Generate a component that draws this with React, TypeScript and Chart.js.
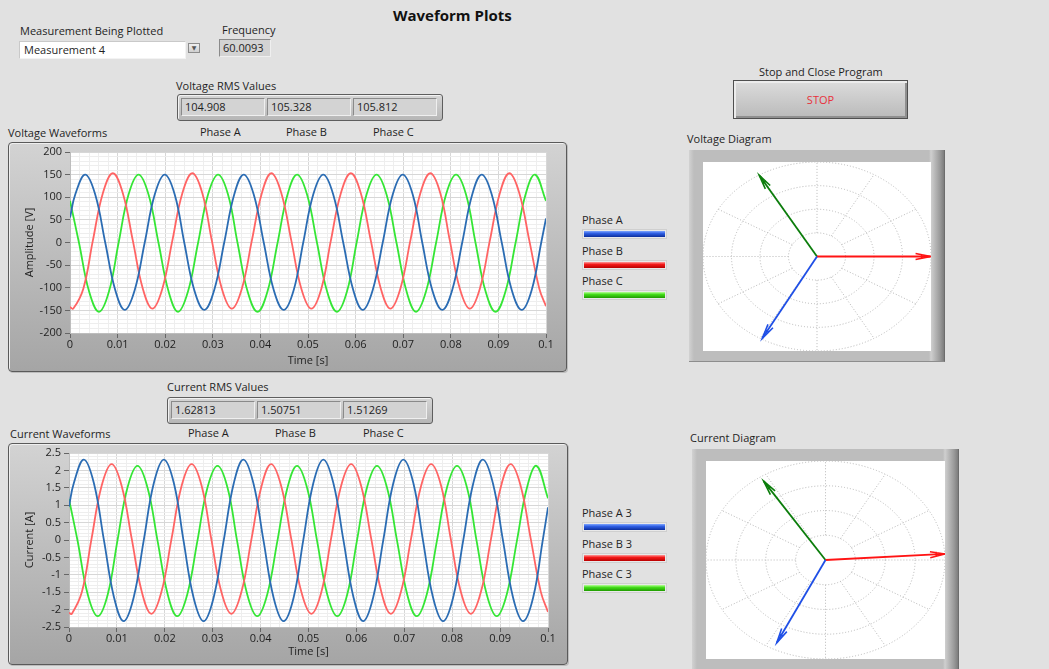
import React, { useEffect, useRef } from 'react';
import { Chart, registerables } from 'chart.js';

Chart.register(...registerables);

const FONT = '"Open Sans", "Noto Sans", "DejaVu Sans", sans-serif';
const TEXT = '#1f1f1f';
Chart.defaults.font.family = FONT;

// ---------- Panel values ----------
const titleText = 'Waveform Plots';
const measurementLabel = 'Measurement Being Plotted';
const measurementValue = 'Measurement 4';
const frequencyLabel = 'Frequency';
const frequencyValue = '60.0093';
const phaseNames = ['Phase A', 'Phase B', 'Phase C'];
const voltageRms = ['104.908', '105.328', '105.812'];
const currentRms = ['1.62813', '1.50751', '1.51269'];
const voltageLegend = ['Phase A', 'Phase B', 'Phase C'];
const currentLegend = ['Phase A 3', 'Phase B 3', 'Phase C 3'];

// ---------- Waveform axes ----------
const timeMajorTicks = [0, 0.01, 0.02, 0.03, 0.04, 0.05, 0.06, 0.07, 0.08, 0.09, 0.1];
const voltageMajorTicks = [-200, -150, -100, -50, 0, 50, 100, 150, 200];
const currentMajorTicks = [-2.5, -2, -1.5, -1, -0.5, 0, 0.5, 1, 1.5, 2, 2.5];

// ---------- Voltage waveforms (time [s], amplitude [V]) ----------
const voltageTimeA = [0, 0.0011, 0.0032, 0.0053, 0.0074, 0.0095, 0.0115, 0.0136, 0.0157, 0.0178, 0.0199, 0.0220, 0.0240, 0.0261, 0.0282, 0.0303, 0.0324, 0.0345, 0.0365, 0.0386, 0.0407, 0.0428, 0.0449, 0.0470, 0.0490, 0.0511, 0.0532, 0.0553, 0.0574, 0.0595, 0.0615, 0.0636, 0.0657, 0.0678, 0.0699, 0.0720, 0.0740, 0.0761, 0.0782, 0.0803, 0.0824, 0.0845, 0.0865, 0.0886, 0.0907, 0.0928, 0.0949, 0.0970, 0.0990, 0.1];
const voltageA = [55,
  106, 150, 106, 0, -105, -149, -105, 0,
  106, 150, 106, 0, -105, -149, -105, 0,
  106, 150, 106, 0, -105, -149, -105, 0,
  106, 150, 106, 0, -105, -149, -105, 0,
  106, 150, 106, 0, -105, -149, -105, 0,
  106, 150, 106, 0, -105, -149, -105, 0,
  53];
const voltageTimeB = [0, 0.0007, 0.0028, 0.0048, 0.0069, 0.0090, 0.0111, 0.0132, 0.0153, 0.0173, 0.0194, 0.0215, 0.0236, 0.0257, 0.0278, 0.0298, 0.0319, 0.0340, 0.0361, 0.0382, 0.0403, 0.0423, 0.0444, 0.0465, 0.0486, 0.0507, 0.0528, 0.0548, 0.0569, 0.0590, 0.0611, 0.0632, 0.0653, 0.0673, 0.0694, 0.0715, 0.0736, 0.0757, 0.0778, 0.0798, 0.0819, 0.0840, 0.0861, 0.0882, 0.0903, 0.0923, 0.0944, 0.0965, 0.0986, 0.1];
const voltageB = [-143,
  -146, -102, 4, 109, 153, 109, 4, -102,
  -146, -102, 4, 109, 153, 109, 4, -102,
  -146, -102, 4, 109, 153, 109, 4, -102,
  -146, -102, 4, 109, 153, 109, 4, -102,
  -146, -102, 4, 109, 153, 109, 4, -102,
  -146, -102, 4, 109, 153, 109, 4, -102,
  -141];
const voltageTimeC = [0, 0.0019, 0.0040, 0.0061, 0.0082, 0.0102, 0.0123, 0.0144, 0.0165, 0.0186, 0.0207, 0.0227, 0.0248, 0.0269, 0.0290, 0.0311, 0.0332, 0.0352, 0.0373, 0.0394, 0.0415, 0.0436, 0.0457, 0.0477, 0.0498, 0.0519, 0.0540, 0.0561, 0.0582, 0.0602, 0.0623, 0.0644, 0.0665, 0.0686, 0.0707, 0.0727, 0.0748, 0.0769, 0.0790, 0.0811, 0.0832, 0.0852, 0.0873, 0.0894, 0.0915, 0.0936, 0.0957, 0.0977, 0.1];
const voltageC = [92,
  -1, -108, -153, -108, -1, 106, 150, 106,
  -1, -108, -153, -108, -1, 106, 150, 106,
  -1, -108, -153, -108, -1, 106, 150, 106,
  -1, -108, -153, -108, -1, 106, 150, 106,
  -1, -108, -153, -108, -1, 106, 150, 106,
  -1, -108, -153, -108, -1, 106, 150,
  92];

// ---------- Current waveforms (time [s], current [A]) ----------
const currentTimeA = [0, 0.0010, 0.0031, 0.0052, 0.0073, 0.0094, 0.0114, 0.0135, 0.0156, 0.0177, 0.0198, 0.0219, 0.0239, 0.0260, 0.0281, 0.0302, 0.0323, 0.0344, 0.0364, 0.0385, 0.0406, 0.0427, 0.0448, 0.0469, 0.0489, 0.0510, 0.0531, 0.0552, 0.0573, 0.0594, 0.0614, 0.0635, 0.0656, 0.0677, 0.0698, 0.0719, 0.0739, 0.0760, 0.0781, 0.0802, 0.0823, 0.0844, 0.0864, 0.0885, 0.0906, 0.0927, 0.0948, 0.0969, 0.0989, 0.1];
const currentA = [0.96,
  1.63, 2.31, 1.63, -0.01, -1.65, -2.33, -1.65, -0.01,
  1.63, 2.31, 1.63, -0.01, -1.65, -2.33, -1.65, -0.01,
  1.63, 2.31, 1.63, -0.01, -1.65, -2.33, -1.65, -0.01,
  1.63, 2.31, 1.63, -0.01, -1.65, -2.33, -1.65, -0.01,
  1.63, 2.31, 1.63, -0.01, -1.65, -2.33, -1.65, -0.01,
  1.63, 2.31, 1.63, -0.01, -1.65, -2.33, -1.65, -0.01,
  0.94];
const currentTimeB = [0, 0.0006, 0.0027, 0.0047, 0.0068, 0.0089, 0.0110, 0.0131, 0.0152, 0.0172, 0.0193, 0.0214, 0.0235, 0.0256, 0.0277, 0.0297, 0.0318, 0.0339, 0.0360, 0.0381, 0.0402, 0.0422, 0.0443, 0.0464, 0.0485, 0.0506, 0.0527, 0.0547, 0.0568, 0.0589, 0.0610, 0.0631, 0.0652, 0.0672, 0.0693, 0.0714, 0.0735, 0.0756, 0.0777, 0.0797, 0.0818, 0.0839, 0.0860, 0.0881, 0.0902, 0.0922, 0.0943, 0.0964, 0.0985, 0.1];
const currentB = [-2.09,
  -2.12, -1.49, 0.03, 1.55, 2.18, 1.55, 0.03, -1.49,
  -2.12, -1.49, 0.03, 1.55, 2.18, 1.55, 0.03, -1.49,
  -2.12, -1.49, 0.03, 1.55, 2.18, 1.55, 0.03, -1.49,
  -2.12, -1.49, 0.03, 1.55, 2.18, 1.55, 0.03, -1.49,
  -2.12, -1.49, 0.03, 1.55, 2.18, 1.55, 0.03, -1.49,
  -2.12, -1.49, 0.03, 1.55, 2.18, 1.55, 0.03, -1.49,
  -2.07];
const currentTimeC = [0, 0.0018, 0.0039, 0.0060, 0.0081, 0.0101, 0.0122, 0.0143, 0.0164, 0.0185, 0.0206, 0.0226, 0.0247, 0.0268, 0.0289, 0.0310, 0.0331, 0.0351, 0.0372, 0.0393, 0.0414, 0.0435, 0.0456, 0.0476, 0.0497, 0.0518, 0.0539, 0.0560, 0.0581, 0.0601, 0.0622, 0.0643, 0.0664, 0.0685, 0.0706, 0.0726, 0.0747, 0.0768, 0.0789, 0.0810, 0.0831, 0.0851, 0.0872, 0.0893, 0.0914, 0.0935, 0.0956, 0.0976, 0.1];
const currentC = [1.17,
  -0.03, -1.56, -2.19, -1.56, -0.03, 1.50, 2.13, 1.50,
  -0.03, -1.56, -2.19, -1.56, -0.03, 1.50, 2.13, 1.50,
  -0.03, -1.56, -2.19, -1.56, -0.03, 1.50, 2.13, 1.50,
  -0.03, -1.56, -2.19, -1.56, -0.03, 1.50, 2.13, 1.50,
  -0.03, -1.56, -2.19, -1.56, -0.03, 1.50, 2.13, 1.50,
  -0.03, -1.56, -2.19, -1.56, -0.03, 1.50, 2.13,
  1.20];

const waveColors = ['#2b6cb3', '#ff6464', '#35e635'];

// ---------- Phasor diagrams (order A, B, C) ----------
const voltagePhasorMag = [104.908, 105.328, 105.812];
const voltagePhasorAngle = [241, 0, 120.5];
const voltagePhasorRange = 106;
const currentPhasorMag = [0.93, 1.0, 0.95];
const currentPhasorAngle = [244, 3.5, 123];
const currentPhasorRange = 1.0;
const phasorColors = ['#1f4fe6', '#ff1414', '#0b7d0b'];
const phasorRings = [0.25, 0.5, 0.75, 1];
const phasorSpokes = [0, 30, 60, 90, 120, 150, 180, 210, 240, 270, 300, 330];

const legendGradients = [
  'linear-gradient(to bottom, #7ea5ff 0%, #2f5fe4 40%, #0c2e9c 100%)',
  'linear-gradient(to bottom, #ff9a9a 0%, #f41a1a 40%, #b80000 100%)',
  'linear-gradient(to bottom, #b8ff99 0%, #44dd1a 40%, #1f9a00 100%)',
];

// ---------- Plugins ----------
const plotBgPlugin = {
  id: 'plotBg',
  beforeDraw(chart: any, _args: any, opts: any) {
    if (!opts || !opts.color) return;
    const { ctx, chartArea } = chart;
    ctx.save();
    ctx.fillStyle = opts.color;
    ctx.fillRect(chartArea.left, chartArea.top, chartArea.width, chartArea.height);
    ctx.restore();
  },
};

const phasorGridPlugin = {
  id: 'phasorGrid',
  beforeDatasetsDraw(chart: any, _args: any, opts: any) {
    const { ctx, scales } = chart;
    const R = opts.range;
    const cx = scales.x.getPixelForValue(0);
    const cy = scales.y.getPixelForValue(0);
    const rx = scales.x.getPixelForValue(R) - cx;
    const ry = cy - scales.y.getPixelForValue(R);
    ctx.save();
    ctx.strokeStyle = '#b8b8b8';
    ctx.lineWidth = 1;
    ctx.setLineDash([1, 2]);
    for (const f of opts.rings) {
      ctx.beginPath();
      ctx.ellipse(cx, cy, rx * f, ry * f, 0, 0, Math.PI * 2);
      ctx.stroke();
    }
    const inner = opts.rings[0];
    for (const a of opts.spokes) {
      const c = Math.cos((a * Math.PI) / 180);
      const s = Math.sin((a * Math.PI) / 180);
      ctx.beginPath();
      ctx.moveTo(cx + rx * inner * c, cy - ry * inner * s);
      ctx.lineTo(cx + rx * c, cy - ry * s);
      ctx.stroke();
    }
    ctx.restore();
  },
  afterDatasetsDraw(chart: any) {
    const { ctx } = chart;
    ctx.save();
    chart.data.datasets.forEach((ds: any, i: number) => {
      const meta = chart.getDatasetMeta(i);
      const p0 = meta.data[0];
      const p1 = meta.data[1];
      if (!p0 || !p1) return;
      const ang = Math.atan2(p1.y - p0.y, p1.x - p0.x);
      const L = 15;
      const spread = 0.2;
      ctx.strokeStyle = ds.borderColor;
      ctx.lineWidth = 1.6;
      ctx.beginPath();
      ctx.moveTo(p1.x - L * Math.cos(ang - spread), p1.y - L * Math.sin(ang - spread));
      ctx.lineTo(p1.x, p1.y);
      ctx.lineTo(p1.x - L * Math.cos(ang + spread), p1.y - L * Math.sin(ang + spread));
      ctx.moveTo(p1.x - 9 * Math.cos(ang - 0.28), p1.y - 9 * Math.sin(ang - 0.28));
      ctx.lineTo(p1.x - 9 * Math.cos(ang + 0.28), p1.y - 9 * Math.sin(ang + 0.28));
      ctx.stroke();
    });
    ctx.restore();
  },
};

const isMajor = (v: number, majors: number[]) => majors.some((m) => Math.abs(m - v) < 1e-7);
const majorLabel = (v: number, majors: number[]) => {
  const m = majors.find((mm) => Math.abs(mm - v) < 1e-7);
  return m === undefined ? '' : String(m);
};

function waveConfig(
  series: { t: number[]; v: number[]; color: string }[],
  y: { min: number; max: number; step: number; majors: number[]; title: string },
  geom: { yWidth: number; xHeight: number; padRight: number; titleBottom: number }
) {
  const tickFont = { family: FONT, size: 11 };
  return {
    type: 'line',
    data: {
      datasets: series.map((s) => ({
        data: s.t.map((t, i) => ({ x: t, y: s.v[i] })),
        borderColor: s.color,
        borderWidth: 1.8,
        pointRadius: 0,
        tension: 0.4,
        fill: false,
      })),
    },
    options: {
      responsive: false,
      animation: false,
      layout: { padding: { top: 10, right: geom.padRight, left: 0, bottom: 0 } },
      plugins: { legend: { display: false }, tooltip: { enabled: false }, plotBg: { color: '#ffffff' } },
      scales: {
        x: {
          type: 'linear',
          min: 0,
          max: 0.1,
          ticks: {
            stepSize: 0.002,
            autoSkip: false,
            maxRotation: 0,
            padding: 0,
            color: TEXT,
            font: tickFont,
            callback: (v: number) => majorLabel(v, timeMajorTicks),
          },
          grid: {
            color: (c: any) => (c.tick && isMajor(c.tick.value, timeMajorTicks) ? '#d7d7d7' : '#eeeeee'),
            tickColor: (c: any) => (c.tick && isMajor(c.tick.value, timeMajorTicks) ? '#666666' : 'rgba(0,0,0,0)'),
            tickLength: 5,
          },
          border: { color: '#bdbdbd' },
          title: { display: true, text: 'Time [s]', color: TEXT, font: tickFont, padding: { top: 0, bottom: geom.titleBottom } },
          afterFit: (s: any) => {
            s.height = geom.xHeight;
          },
        },
        y: {
          type: 'linear',
          min: y.min,
          max: y.max,
          ticks: {
            stepSize: y.step,
            autoSkip: false,
            padding: 3,
            color: TEXT,
            font: tickFont,
            callback: (v: number) => majorLabel(v, y.majors),
          },
          grid: {
            color: (c: any) => (c.tick && isMajor(c.tick.value, y.majors) ? '#d7d7d7' : '#eeeeee'),
            tickColor: (c: any) => (c.tick && isMajor(c.tick.value, y.majors) ? '#666666' : 'rgba(0,0,0,0)'),
            tickLength: 5,
          },
          border: { color: '#bdbdbd' },
          title: { display: true, text: y.title, color: TEXT, font: tickFont, padding: { top: 15, bottom: 0 } },
          afterFit: (s: any) => {
            s.width = geom.yWidth;
          },
        },
      },
    },
    plugins: [plotBgPlugin],
  };
}

function phasorConfig(mags: number[], angles: number[], range: number) {
  return {
    type: 'scatter',
    data: {
      datasets: mags.map((m, i) => ({
        data: [
          { x: 0, y: 0 },
          { x: m * Math.cos((angles[i] * Math.PI) / 180), y: m * Math.sin((angles[i] * Math.PI) / 180) },
        ],
        showLine: true,
        borderColor: phasorColors[i],
        borderWidth: 1.8,
        pointRadius: 0,
      })),
    },
    options: {
      responsive: false,
      animation: false,
      layout: { padding: 0 },
      plugins: {
        legend: { display: false },
        tooltip: { enabled: false },
        plotBg: { color: '#ffffff' },
        phasorGrid: { range, rings: phasorRings, spokes: phasorSpokes },
      },
      scales: {
        x: { type: 'linear', min: -range, max: range, display: false },
        y: { type: 'linear', min: -range, max: range, display: false },
      },
    },
    plugins: [plotBgPlugin, phasorGridPlugin],
  };
}

function ChartCanvas({ x, y, w, h, make }: { x: number; y: number; w: number; h: number; make: () => any }) {
  const ref = useRef<HTMLCanvasElement>(null);
  useEffect(() => {
    const chart = new Chart(ref.current as HTMLCanvasElement, make());
    return () => chart.destroy();
  }, []);
  return <canvas ref={ref} width={w} height={h} style={{ position: 'absolute', left: x, top: y, width: w, height: h }} />;
}

function Txt({ x, y, children, size = 11, weight = 400, color = TEXT }: any) {
  return (
    <div
      style={{
        position: 'absolute',
        left: x,
        top: y - 8,
        height: 16,
        lineHeight: '16px',
        fontSize: size,
        fontWeight: weight,
        color,
        whiteSpace: 'nowrap',
        fontFamily: FONT,
      }}
    >
      {children}
    </div>
  );
}

function InsetBox({ x, y, w, h, bg, text }: any) {
  return (
    <div
      style={{
        position: 'absolute',
        left: x,
        top: y,
        width: w,
        height: h,
        boxSizing: 'border-box',
        background: bg,
        borderTop: '1px solid #8a8a8a',
        borderLeft: '1px solid #8a8a8a',
        borderRight: '1px solid #efefef',
        borderBottom: '1px solid #efefef',
        fontFamily: FONT,
        fontSize: 11,
        color: TEXT,
        lineHeight: `${h - 2}px`,
        paddingLeft: 3,
        whiteSpace: 'nowrap',
      }}
    >
      {text}
    </div>
  );
}

function RmsCluster({ x, y, values }: { x: number; y: number; values: string[] }) {
  return (
    <>
      <div
        style={{
          position: 'absolute',
          left: x,
          top: y,
          width: 266,
          height: 27,
          boxSizing: 'border-box',
          border: '1px solid #5e5e5e',
          borderRadius: 3,
          background: 'linear-gradient(#d6d6d6, #b6b6b6)',
          boxShadow: 'inset 1px 1px 0 #f2f2f2',
        }}
      />
      {values.map((v, i) => (
        <InsetBox key={i} x={x + 4 + i * 86} y={y + 4} w={84} h={18} bg="#d3d3d3" text={v} />
      ))}
    </>
  );
}

function Legend({ x, y, names }: { x: number; y: number; names: string[] }) {
  return (
    <>
      {names.map((n, i) => (
        <React.Fragment key={i}>
          <Txt x={x} y={y + i * 30.5}>
            {n}
          </Txt>
          <div
            style={{
              position: 'absolute',
              left: x,
              top: y + 9 + i * 30.5,
              width: 85,
              height: 10,
              boxSizing: 'border-box',
              border: '1px solid #cfcfcf',
              background: '#e9e9e9',
              padding: 1,
            }}
          >
            <div style={{ width: '100%', height: '100%', background: legendGradients[i] }} />
          </div>
        </React.Fragment>
      ))}
    </>
  );
}

function GraphFrame({ x, y, w, h }: any) {
  return (
    <div
      style={{
        position: 'absolute',
        left: x,
        top: y,
        width: w,
        height: h,
        boxSizing: 'border-box',
        border: '1px solid #5a5a5a',
        borderRadius: 4,
        background: 'linear-gradient(#d3d3d3, #a5a5a5)',
        boxShadow: 'inset 1px 1px 0 #efefef, 1px 1px 0 #bdbdbd',
      }}
    />
  );
}

function DiagramFrame({ x, y, w, h }: any) {
  return (
    <div
      style={{
        position: 'absolute',
        left: x,
        top: y,
        width: w,
        height: h,
        boxSizing: 'border-box',
        borderRight: '1px solid #6d6d6d',
        borderBottom: '1px solid #8d8d8d',
        background:
          'linear-gradient(to right, #d2d2d2 0px, #bdbdbd 5px, #bdbdbd calc(100% - 15px), #cfcfcf calc(100% - 13px), #9a9a9a calc(100% - 4px), #7d7d7d 100%)',
      }}
    />
  );
}

export default function App() {
  return (
    <div
      style={{
        position: 'fixed',
        left: 0,
        top: 0,
        width: 1049,
        height: 669,
        background: '#e1e1e1',
        overflow: 'hidden',
        fontFamily: FONT,
      }}
    >
      <Txt x={393} y={15} size={15} weight={700} color="#111">
        {titleText}
      </Txt>

      {/* measurement selector */}
      <Txt x={20} y={31}>
        {measurementLabel}
      </Txt>
      <div
        style={{
          position: 'absolute',
          left: 19,
          top: 41,
          width: 167,
          height: 18,
          boxSizing: 'border-box',
          background: '#ffffff',
          borderTop: '1px solid #c9c9c9',
          borderLeft: '1px solid #c9c9c9',
          borderRight: '1px solid #f3f3f3',
          borderBottom: '1px solid #f3f3f3',
          fontSize: 11,
          lineHeight: '16px',
          paddingLeft: 4,
          color: TEXT,
        }}
      >
        {measurementValue}
      </div>
      <div
        style={{
          position: 'absolute',
          left: 188,
          top: 43,
          width: 12,
          height: 10,
          boxSizing: 'border-box',
          border: '1px solid #8c8c8c',
          background: 'linear-gradient(#f0f0f0, #cfcfcf)',
          fontSize: 6,
          lineHeight: '8px',
          textAlign: 'center',
          color: '#555',
        }}
      >
        ▼
      </div>

      {/* frequency */}
      <Txt x={222} y={30}>
        {frequencyLabel}
      </Txt>
      <InsetBox x={219} y={39} w={52} h={18} bg="#d3d3d3" text={frequencyValue} />

      {/* voltage RMS */}
      <Txt x={176} y={86}>
        Voltage RMS Values
      </Txt>
      <RmsCluster x={177} y={94} values={voltageRms} />
      {phaseNames.map((p, i) => (
        <Txt key={p} x={[200, 286, 373][i]} y={132}>
          {p}
        </Txt>
      ))}
      <Txt x={8} y={133}>
        Voltage Waveforms
      </Txt>

      <GraphFrame x={8} y={142} w={559} h={230} />
      <ChartCanvas
        x={8}
        y={142}
        w={559}
        h={230}
        make={() =>
          waveConfig(
            [
              { t: voltageTimeA, v: voltageA, color: waveColors[0] },
              { t: voltageTimeB, v: voltageB, color: waveColors[1] },
              { t: voltageTimeC, v: voltageC, color: waveColors[2] },
            ],
            { min: -200, max: 200, step: 10, majors: voltageMajorTicks, title: 'Amplitude [V]' },
            { yWidth: 62, xHeight: 39, padRight: 21, titleBottom: 5 }
          )
        }
      />
      <Legend x={582} y={220} names={voltageLegend} />

      {/* stop button */}
      <Txt x={759} y={72}>
        Stop and Close Program
      </Txt>
      <div
        style={{
          position: 'absolute',
          left: 733,
          top: 80,
          width: 175,
          height: 39,
          boxSizing: 'border-box',
          border: '1px solid #4f4f4f',
          background: 'linear-gradient(#dcdcdc, #bababa)',
          boxShadow: 'inset 2px 2px 0 #ececec, inset -2px -2px 0 #8f8f8f',
          color: '#e8323c',
          fontSize: 11,
          textAlign: 'center',
          lineHeight: '37px',
        }}
      >
        STOP
      </div>

      {/* voltage diagram */}
      <Txt x={687} y={139}>
        Voltage Diagram
      </Txt>
      <DiagramFrame x={689} y={150} w={256} h={212} />
      <ChartCanvas x={703} y={162} w={228} h={189} make={() => phasorConfig(voltagePhasorMag, voltagePhasorAngle, voltagePhasorRange)} />

      {/* current RMS */}
      <Txt x={167} y={387}>
        Current RMS Values
      </Txt>
      <RmsCluster x={167} y={397} values={currentRms} />
      {phaseNames.map((p, i) => (
        <Txt key={p + 'c'} x={[188, 275, 363][i]} y={433}>
          {p}
        </Txt>
      ))}
      <Txt x={10} y={434}>
        Current Waveforms
      </Txt>

      <GraphFrame x={8} y={443} w={560} h={222} />
      <ChartCanvas
        x={8}
        y={443}
        w={560}
        h={222}
        make={() =>
          waveConfig(
            [
              { t: currentTimeA, v: currentA, color: waveColors[0] },
              { t: currentTimeB, v: currentB, color: waveColors[1] },
              { t: currentTimeC, v: currentC, color: waveColors[2] },
            ],
            { min: -2.5, max: 2.5, step: 0.1, majors: currentMajorTicks, title: 'Current [A]' },
            { yWidth: 61, xHeight: 38, padRight: 20, titleBottom: 7 }
          )
        }
      />
      <Legend x={582} y={513} names={currentLegend} />

      {/* current diagram */}
      <Txt x={690} y={438}>
        Current Diagram
      </Txt>
      <DiagramFrame x={692} y={449} w={267} h={232} />
      <ChartCanvas x={706} y={461} w={239} h={198} make={() => phasorConfig(currentPhasorMag, currentPhasorAngle, currentPhasorRange)} />
    </div>
  );
}
